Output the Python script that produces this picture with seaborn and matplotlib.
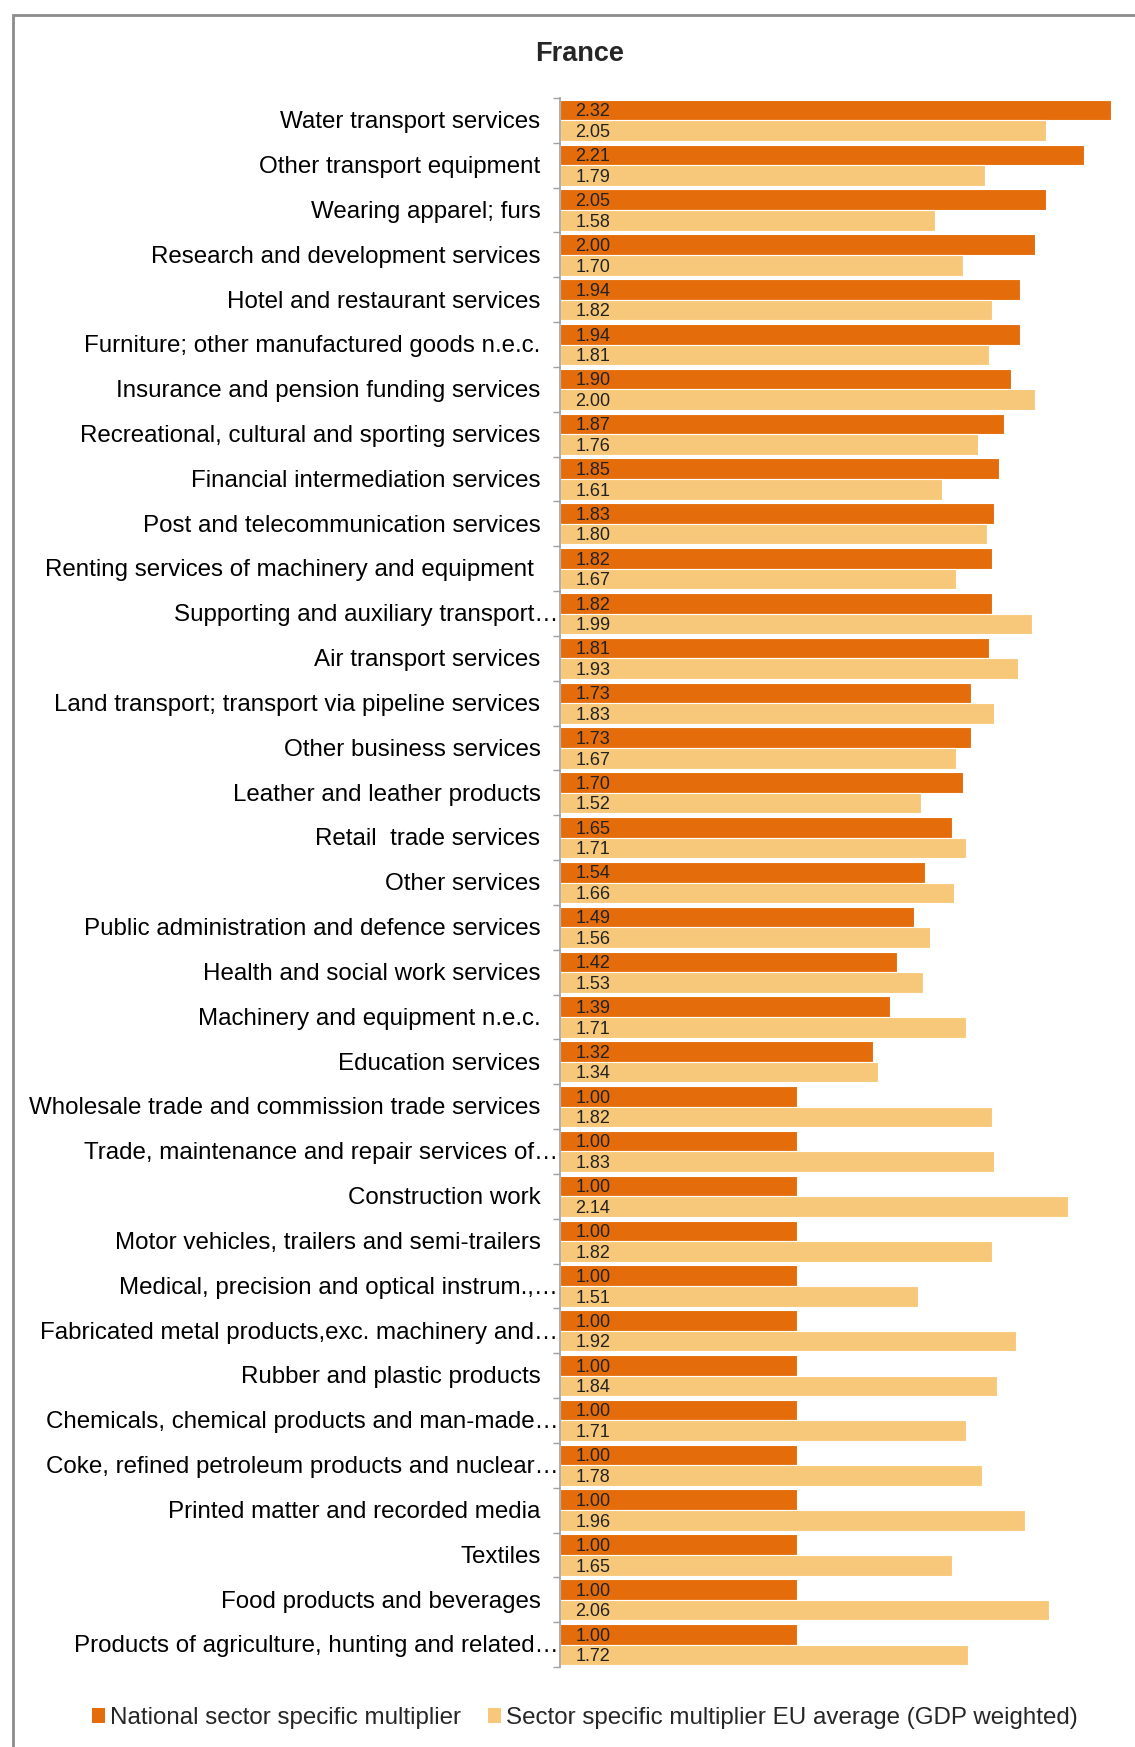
import matplotlib
matplotlib.use("Agg")
import matplotlib.pyplot as plt
from matplotlib.patches import Rectangle, Patch
from matplotlib.transforms import blended_transform_factory
import pandas as pd
import seaborn as sns

sectors = [
    "Water transport services",
    "Other transport equipment",
    "Wearing apparel; furs",
    "Research and development services",
    "Hotel and restaurant services",
    "Furniture; other manufactured goods n.e.c.",
    "Insurance and pension funding services",
    "Recreational, cultural and sporting services",
    "Financial intermediation services",
    "Post and telecommunication services",
    "Renting services of machinery and equipment ",
    "Supporting and auxiliary transport\u2026",
    "Air transport services",
    "Land transport; transport via pipeline services",
    "Other business services",
    "Leather and leather products",
    "Retail  trade services",
    "Other services",
    "Public administration and defence services",
    "Health and social work services",
    "Machinery and equipment n.e.c.",
    "Education services",
    "Wholesale trade and commission trade services",
    "Trade, maintenance and repair services of\u2026",
    "Construction work",
    "Motor vehicles, trailers and semi-trailers",
    "Medical, precision and optical instrum.,\u2026",
    "Fabricated metal products,exc. machinery and\u2026",
    "Rubber and plastic products",
    "Chemicals, chemical products and man-made\u2026",
    "Coke, refined petroleum products and nuclear\u2026",
    "Printed matter and recorded media",
    "Textiles",
    "Food products and beverages",
    "Products of agriculture, hunting and related\u2026",
]

national = [2.32, 2.21, 2.05, 2.00, 1.94, 1.94, 1.90, 1.87, 1.85, 1.83,
            1.82, 1.82, 1.81, 1.73, 1.73, 1.70, 1.65, 1.54, 1.49, 1.42,
            1.39, 1.32, 1.00, 1.00, 1.00, 1.00, 1.00, 1.00, 1.00, 1.00,
            1.00, 1.00, 1.00, 1.00, 1.00]

eu_average = [2.05, 1.79, 1.58, 1.70, 1.82, 1.81, 2.00, 1.76, 1.61, 1.80,
              1.67, 1.99, 1.93, 1.83, 1.67, 1.52, 1.71, 1.66, 1.56, 1.53,
              1.71, 1.34, 1.82, 1.83, 2.14, 1.82, 1.51, 1.92, 1.84, 1.71,
              1.78, 1.96, 1.65, 2.06, 1.72]

series_names = ["National sector specific multiplier",
                "Sector specific multiplier EU average (GDP weighted)"]
colors = ["#E46C0A", "#F7C879"]

df = pd.DataFrame({
    "sector": sectors * 2,
    "value": national + eu_average,
    "series": [series_names[0]] * len(sectors) + [series_names[1]] * len(sectors),
})

sns.set_theme(style="white")
plt.rcParams["font.family"] = ["Liberation Sans", "DejaVu Sans"]

W, H = 1135, 1747
fig = plt.figure(figsize=(W / 100, H / 100), dpi=100)
ax = fig.add_axes([560 / W, 1 - 1667 / H, (1120 - 560) / W, (1667 - 98) / H])

sns.barplot(data=df, y="sector", x="value", hue="series", orient="h",
            palette=colors, saturation=1, width=0.92, order=sectors,
            hue_order=series_names, edgecolor="white", linewidth=0.8,
            legend=False, ax=ax)

ax.set_xlim(0, 2.36)
n = len(sectors)
ax.set_ylim(n - 0.5, -0.5)
ax.set_xlabel("")
ax.set_ylabel("")
ax.set_xticks([])
ax.set_yticks([])
ax.set_yticks([i - 0.5 for i in range(n + 1)], minor=True)
ax.tick_params(axis="y", which="minor", left=True, length=5, width=1,
               color="#A0A0A0", labelleft=False)
for side in ["top", "right", "bottom"]:
    ax.spines[side].set_visible(False)
ax.spines["left"].set_color("#A0A0A0")
ax.spines["left"].set_linewidth(1.2)

# category labels, right-aligned against the axis
trans = blended_transform_factory(ax.transAxes, ax.transData)
for i, name in enumerate(sectors):
    xoff = -0.003 if name.endswith("\u2026") else -0.035
    ax.text(xoff, i + 0.04, name, transform=trans, ha="right", va="center",
            fontsize=17.4, color="black")

# value labels at the base of each bar
for container in ax.containers:
    for bar in container:
        val = bar.get_width()
        yc = bar.get_y() + bar.get_height() / 2 + 0.04
        ax.text(0.065, yc, f"{val:.2f}", ha="left", va="center",
                fontsize=13, color="#222222")

fig.text(580 / W, 1 - 54 / H, "France", ha="center", va="center",
         fontsize=19.5, fontweight="bold")

handles = [Patch(facecolor=c, edgecolor="none") for c in colors]
fig.legend(handles, series_names, loc="center", ncol=2,
           bbox_to_anchor=(585 / W, 1 - 1718 / H), frameon=False,
           fontsize=17.4, handlelength=0.55, handleheight=0.55,
           handletextpad=0.2, columnspacing=1.1)

fig.patches.append(Rectangle((13 / W, -0.05), 1.2, 1 - 15 / H + 0.05,
                             transform=fig.transFigure, fill=False,
                             edgecolor="#8C8C8C", linewidth=2))

fig.savefig("out.png", dpi=100)
